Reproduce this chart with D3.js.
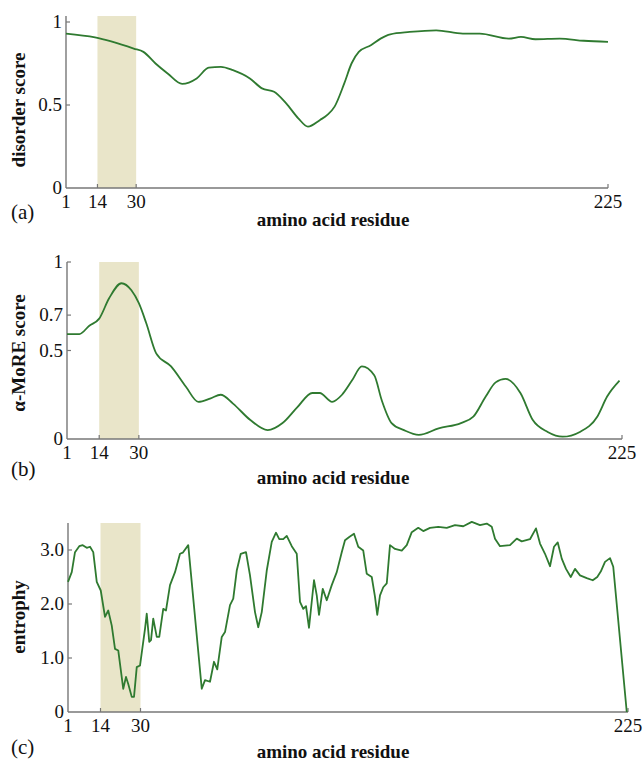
<!DOCTYPE html>
<html>
<head>
<meta charset="utf-8">
<script src="https://cdn.jsdelivr.net/npm/d3@7"></script>
<style>
  body { margin: 0; background: #fff; }
  text { fill: #111; }
</style>
</head>
<body>
<svg id="chart" width="643" height="761"></svg>
<script>
// shared x ticks (amino acid residue) and highlighted region
var xTicks = [1, 14, 30, 225];
var shade = [14, 30];

// (a) disorder score
var disorderRes = [1, 13, 29, 33, 38, 43, 49, 55, 60, 65,
                   70, 77, 82, 87, 92, 97, 101, 106, 109, 112,
                   116, 119, 122, 127, 131, 135, 143, 154, 165, 172,
                   184, 189, 195, 205, 215, 225];
var disorderVal = [.93, .907, .84, .82, .75, .69, .627, .66, .725, .73,
                   .71, .66, .60, .58, .51, .42, .37, .41, .44, .49,
                   .63, .75, .82, .86, .90, .926, .94, .95, .93, .93,
                   .90, .91, .896, .90, .887, .88];
var disorderTicks = [0, 0.5, 1];
var disorderLabels = ["0", "0.5", "1"];

// (b) alpha-MoRE score
var moreRes = [1, 6, 10, 14, 18, 23, 27, 30, 33, 37,
               43, 49, 54, 59, 63, 68, 75, 82, 88, 94,
               100, 103, 108, 112, 116, 120, 125, 128, 132, 137,
               143, 151, 160, 165, 170, 174, 178, 184, 189, 195,
               201, 208, 215, 219, 224];
var moreVal = [.593, .593, .64, .68, .795, .88, .84, .767, .654, .484,
               .41, .295, .21, .23, .25, .20, .107, .05, .09, .18,
               .26, .26, .21, .25, .33, .41, .36, .22, .09, .05,
               .023, .06, .09, .126, .24, .32, .34, .26, .107, .04,
               .013, .04, .126, .24, .33];
var moreTicks = [0, 0.5, 0.7, 1];
var moreLabels = ["0", "0.5", "0.7", "1"];

// (c) entropy
var entropyRes = [1, 2.5, 3.8, 5.5, 6.9, 8.5, 9.8, 11.1, 12.5, 14.1,
                  15.8, 17.1, 18.5, 19.8, 21.1, 23.1, 24.2, 25.1, 26.5, 27.4,
                  28.5, 29.8, 31.8, 32.5, 33.5, 34.2, 35.1, 36.5, 37.5, 39.1,
                  40.2, 41.8, 43.8, 45.8, 46.9, 49.1, 54.5, 55.8, 57.8, 59.4,
                  60.7, 62.5, 63.8, 65.8, 67.1, 68.5, 70.1, 72.2, 73.8, 75.8,
                  77.1, 78.5, 80.5, 82.5, 84.2, 85.5, 87.1, 88.5, 90.5, 92.5,
                  93.8, 95.1, 96.2, 97.4, 99.4, 100.5, 101.4, 102.9, 104.5, 106.5,
                  108.5, 110.5, 111.8, 113.5, 115.4, 117.1, 119.1, 120.5, 122.5, 123.8,
                  124.7, 125.8, 127.1, 128.5, 129.8, 131.8, 134.5, 136.5, 138.5, 141.1,
                  143.1, 145.8, 149.1, 152.5, 155.8, 159.1, 162.5, 165.8, 168.5, 170.5,
                  171.8, 173.8, 177.8, 180.5, 182.5, 185.8, 188.2, 189.8, 191.8, 193.8,
                  195.4, 196.9, 198.5, 200.2, 202.1, 203.8, 205.8, 208.5, 210.9, 212.7,
                  214.1, 215.8, 217.8, 219.1, 224.5];
var entropyVal = [2.41, 2.59, 2.96, 3.07, 3.09, 3.04, 3.06, 2.96, 2.41, 2.25,
                  1.76, 1.88, 1.60, 1.17, 1.14, 0.43, 0.65, 0.52, 0.28, 0.28,
                  0.83, 0.86, 1.54, 1.82, 1.30, 1.33, 1.73, 1.39, 1.39, 1.91,
                  1.88, 2.35, 2.59, 2.93, 2.95, 3.09, 0.43, 0.59, 0.56, 0.93,
                  0.79, 1.39, 1.48, 1.98, 2.10, 2.62, 2.93, 2.96, 2.53, 1.85,
                  1.57, 1.85, 2.62, 3.15, 3.32, 3.20, 3.20, 3.26, 3.07, 2.93,
                  2.04, 1.91, 1.96, 1.56, 2.44, 2.16, 1.80, 2.28, 2.07, 2.35,
                  2.59, 2.96, 3.18, 3.24, 3.30, 3.06, 2.99, 2.56, 2.50, 2.13,
                  1.80, 2.16, 2.31, 2.38, 3.09, 3.02, 2.99, 3.09, 3.33, 3.41,
                  3.35, 3.41, 3.43, 3.41, 3.46, 3.44, 3.52, 3.46, 3.49, 3.43,
                  3.21, 3.07, 3.09, 3.21, 3.16, 3.20, 3.40, 3.12, 2.93, 2.70,
                  3.06, 3.14, 2.84, 2.65, 2.50, 2.65, 2.53, 2.48, 2.44, 2.50,
                  2.60, 2.78, 2.85, 2.69, 0];
var entropyTicks = [0, 1, 2, 3];
var entropyLabels = ["0", "1.0", "2.0", "3.0"];

var lineColor = "#2f7a30";
var axisColor = "#777";
var shadeColor = "#e9e5c9";
var serif = "'Liberation Serif', 'Times New Roman', Times, serif";

// one entry per panel, layout in pixels
var panels = [
  { res: disorderRes, val: disorderVal, ticks: disorderTicks, labels: disorderLabels,
    yMax: 1, yTop: 1.036, x0: 66, x1: 608, y0: 188, y1: 22,
    title: "disorder score", titleY: 110, tag: "(a)", tagY: 219, xLabY: 226, curve: d3.curveMonotoneX },
  { res: moreRes, val: moreVal, ticks: moreTicks, labels: moreLabels,
    yMax: 1, yTop: 1, x0: 67, x1: 622, y0: 439, y1: 262,
    title: "\u03b1-MoRE score", titleY: 353, tag: "(b)", tagY: 476, xLabY: 484, curve: d3.curveMonotoneX },
  { res: entropyRes, val: entropyVal, ticks: entropyTicks, labels: entropyLabels,
    yMax: 3, yTop: 3.5, x0: 68, x1: 628, y0: 712, y1: 550,
    title: "entrophy", titleY: 617, tag: "(c)", tagY: 754, xLabY: 758, curve: d3.curveLinear }
];

var svg = d3.select("#chart");

panels.forEach(function (p) {
  var x = d3.scaleLinear().domain([1, 225]).range([p.x0, p.x1]);
  var y = d3.scaleLinear().domain([0, p.yMax]).range([p.y0, p.y1]);
  var g = svg.append("g").attr("font-family", serif);

  // highlighted residues 14-30
  g.append("rect")
    .attr("x", x(shade[0]))
    .attr("width", x(shade[1]) - x(shade[0]))
    .attr("y", y(p.yTop))
    .attr("height", y(0) - y(p.yTop))
    .attr("fill", shadeColor);

  // axes lines
  g.append("line")
    .attr("x1", x(1)).attr("x2", x(1))
    .attr("y1", y(0)).attr("y2", y(p.yTop))
    .attr("stroke", axisColor).attr("stroke-width", 1.4);
  g.append("line")
    .attr("x1", x(1)).attr("x2", x(225))
    .attr("y1", y(0)).attr("y2", y(0))
    .attr("stroke", axisColor).attr("stroke-width", 1.4);

  // y ticks (pointing inward) + labels
  g.selectAll(".yt").data(p.ticks.filter(function (t) { return t > 0; }))
    .enter().append("line")
    .attr("x1", x(1)).attr("x2", x(1) + 4)
    .attr("y1", function (d) { return y(d); })
    .attr("y2", function (d) { return y(d); })
    .attr("stroke", axisColor).attr("stroke-width", 1.2);
  g.selectAll(".yl").data(p.ticks)
    .enter().append("text")
    .attr("x", x(1) - 4)
    .attr("y", function (d) { return y(d) + 6; })
    .attr("text-anchor", "end")
    .attr("font-family", serif)
    .style("font-size", "19px")
    .text(function (d, i) { return p.labels[i]; });

  // x ticks + labels
  g.selectAll(".xt").data(xTicks.filter(function (t) { return t > 1; }))
    .enter().append("line")
    .attr("x1", function (d) { return x(d); })
    .attr("x2", function (d) { return x(d); })
    .attr("y1", y(0)).attr("y2", y(0) - 4)
    .attr("stroke", axisColor).attr("stroke-width", 1.2);
  g.selectAll(".xl").data(xTicks)
    .enter().append("text")
    .attr("x", function (d) { return x(d); })
    .attr("y", y(0) + 20)
    .attr("text-anchor", "middle")
    .attr("font-family", serif)
    .style("font-size", "19px")
    .text(function (d) { return d; });

  // the curve
  var line = d3.line()
    .x(function (d, i) { return x(p.res[i]); })
    .y(function (d) { return y(d); })
    .curve(p.curve);
  g.append("path")
    .datum(p.val)
    .attr("d", line)
    .attr("fill", "none")
    .attr("stroke", lineColor)
    .attr("stroke-width", 1.8)
    .attr("stroke-linejoin", "round");

  // titles
  g.append("text")
    .attr("transform", "translate(25," + p.titleY + ") rotate(-90)")
    .attr("text-anchor", "middle")
    .attr("font-family", serif)
    .style("font-size", "19px")
    .style("font-weight", "bold")
    .text(p.title);
  g.append("text")
    .attr("x", 333).attr("y", p.xLabY)
    .attr("text-anchor", "middle")
    .attr("font-family", serif)
    .style("font-size", "19px")
    .style("font-weight", "bold")
    .text("amino acid residue");
  g.append("text")
    .attr("x", 11).attr("y", p.tagY)
    .attr("font-family", serif)
    .style("font-size", "21px")
    .text(p.tag);
});
</script>
</body>
</html>
